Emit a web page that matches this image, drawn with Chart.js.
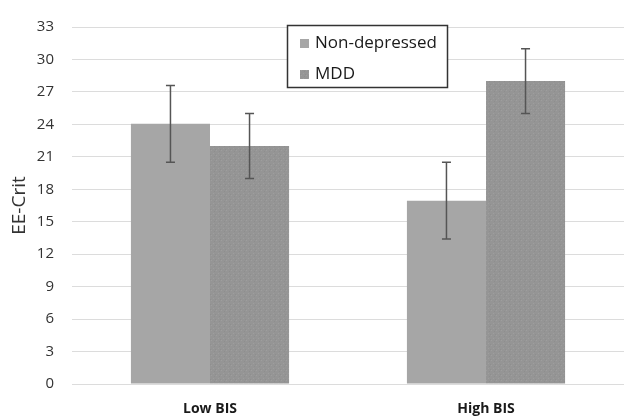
<!DOCTYPE html>
<html>
<head>
<meta charset="utf-8">
<script src="https://cdn.jsdelivr.net/npm/chart.js@4"></script>
<style>
  html, body { margin: 0; padding: 0; background: #fff; }
  #wrap { width: 624px; height: 419px; }
</style>
</head>
<body>
<div id="wrap"><canvas id="chart" width="624" height="419"></canvas></div>
<script>
// data
const groups = ["Low BIS", "High BIS"];
const seriesNames = ["Non-depressed", "MDD"];
const nonDepressed = [24.05, 16.95];
const mdd = [22.0, 28.0];
const errNonDepressed = [3.55, 3.55];
const errMdd = [3.0, 3.0];
const yTicks = [0, 3, 6, 9, 12, 15, 18, 21, 24, 27, 30, 33];

// speckled fill for the MDD bars
function speckle() {
    const c = document.createElement("canvas");
    c.width = 5; c.height = 5;
    const g = c.getContext("2d");
    g.fillStyle = "#959595";
    g.fillRect(0, 0, 5, 5);
    g.fillStyle = "#9e9e9e";
    g.fillRect(1, 0, 1, 1);
    g.fillRect(3, 3, 1, 1);
    g.fillStyle = "#8e8e8e";
    g.fillRect(4, 1, 1, 1);
    g.fillRect(0, 4, 1, 1);
    return g.createPattern(c, "repeat");
}

const errors = [errNonDepressed, errMdd];

// error bars, drawn through the value scale
const errorBars = {
    id: "errorBars",
    afterDatasetsDraw(chart) {
        const ctx = chart.ctx;
        const y = chart.scales.y;
        ctx.save();
        ctx.strokeStyle = "#555";
        ctx.lineWidth = 1.5;
        chart.data.datasets.forEach((ds, i) => {
            chart.getDatasetMeta(i).data.forEach((bar, j) => {
                const v = ds.data[j];
                const e = errors[i][j];
                const yTop = y.getPixelForValue(v + e);
                const yBot = y.getPixelForValue(v - e);
                const x = bar.x;
                ctx.beginPath();
                ctx.moveTo(x, yTop); ctx.lineTo(x, yBot);
                ctx.moveTo(x - 4.5, yTop); ctx.lineTo(x + 4.5, yTop);
                ctx.moveTo(x - 4.5, yBot); ctx.lineTo(x + 4.5, yBot);
                ctx.stroke();
            });
        });
        ctx.restore();
    }
};

// boxed legend sitting inside the plot
const boxLegend = {
    id: "boxLegend",
    afterDraw(chart) {
        const ctx = chart.ctx;
        ctx.save();
        ctx.fillStyle = "#fff";
        ctx.fillRect(287, 25, 161, 63);
        ctx.strokeStyle = "#333";
        ctx.lineWidth = 1.5;
        ctx.strokeRect(287.5, 25.5, 160, 62);
        ctx.font = "17px 'Open Sans'";
        ctx.textBaseline = "middle";
        chart.data.datasets.forEach((ds, i) => {
            const cy = 43 + i * 31;
            ctx.fillStyle = ds.backgroundColor;
            ctx.fillRect(300, cy - 4, 9, 9);
            ctx.fillStyle = "#1a1a1a";
            ctx.fillText(ds.label, 315, cy);
        });
        ctx.restore();
    }
};

new Chart(document.getElementById("chart"), {
    type: "bar",
    data: {
        labels: groups,
        datasets: [
            {
                label: seriesNames[0],
                data: nonDepressed,
                backgroundColor: "#a6a6a6",
                categoryPercentage: 0.573,
                barPercentage: 1.0
            },
            {
                label: seriesNames[1],
                data: mdd,
                backgroundColor: speckle(),
                categoryPercentage: 0.573,
                barPercentage: 1.0
            }
        ]
    },
    options: {
        responsive: false,
        animation: false,
        layout: { padding: { top: 18, right: -6, bottom: 0, left: 0 } },
        plugins: {
            legend: { display: false },
            tooltip: { enabled: false }
        },
        scales: {
            x: {
                grid: { display: false },
                border: { display: false },
                ticks: {
                    color: "#1a1a1a",
                    font: { family: "'Open Sans'", size: 14, weight: "bold" },
                    padding: 9
                },
                afterFit(s) { s.height = 35; }
            },
            y: {
                min: 0,
                max: 33,
                afterBuildTicks(s) { s.ticks = yTicks.map(v => ({ value: v })); },
                grid: { color: "#dcdcdc", lineWidth: 1, drawTicks: false },
                border: { display: false },
                ticks: {
                    color: "#333",
                    font: { family: "'Open Sans'", size: 15 },
                    padding: 18
                },
                title: {
                    display: true,
                    text: "EE-Crit",
                    color: "#333",
                    font: { family: "'Open Sans'", size: 19 },
                    padding: { top: 8, bottom: 0 }
                },
                afterFit(s) { s.width = 72; }
            }
        }
    },
    plugins: [errorBars, boxLegend]
});
</script>
</body>
</html>
